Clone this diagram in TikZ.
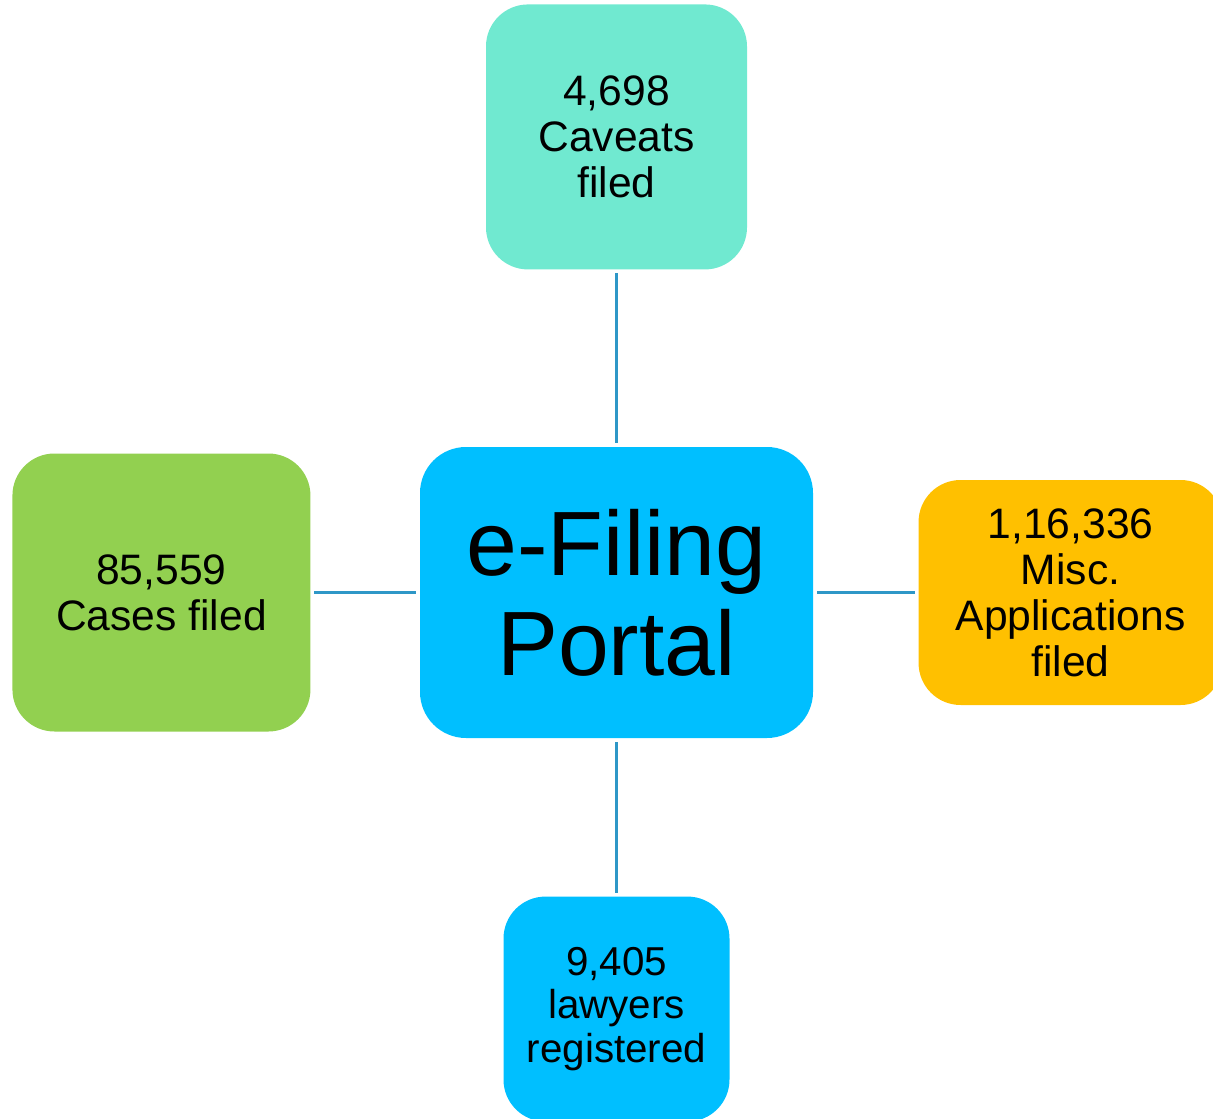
\documentclass[tikz,border=0pt]{standalone}
\usepackage{fontspec}
\setmainfont{Liberation Sans}
\usetikzlibrary{positioning}
\definecolor{portalblue}{HTML}{00BFFF}
\definecolor{caveatteal}{HTML}{70E9D0}
\definecolor{casegreen}{HTML}{92D050}
\definecolor{miscorange}{HTML}{FFC000}
\definecolor{linkblue}{HTML}{2E97C7}
\tikzstyle{hub} = [rectangle, rounded corners=1.15cm, minimum width=9.825cm, minimum height=7.275cm, inner sep=0pt, align=center, fill=portalblue, font=\fontsize{65}{71}\selectfont]
\tikzstyle{stat} = [rectangle, rounded corners=1.05cm, inner sep=0pt, align=center, font=\fontsize{30.3}{32.8}\selectfont]
\tikzstyle{link} = [draw=linkblue, line width=1.6pt, shorten <=2.5pt, shorten >=2.5pt]

\begin{document}
\begin{tikzpicture}
\useasboundingbox (0,0) rectangle (30.325,-27.975);

\node (portal) [hub] at (15.4125,-14.8125) {e-Filing\\Portal};
\node (caveats) [stat, fill=caveatteal, minimum width=6.525cm, minimum height=6.625cm, above=4.425cm of portal] {4,698\\Caveats\\filed};
\node (cases) [stat, fill=casegreen, minimum width=7.45cm, minimum height=6.95cm, left=2.725cm of portal] {85,559\\Cases filed};
\node (misc) [stat, fill=miscorange, minimum width=7.6cm, minimum height=5.625cm, right=2.625cm of portal] {1,16,336\\Misc.\\Applications\\filed};
\node (lawyers) [stat, fill=portalblue, minimum width=5.65cm, minimum height=5.625cm, below=3.95cm of portal, font=\fontsize{28.7}{31}\selectfont] {9,405\\lawyers\\registered};

\draw [link] (caveats) -- (portal);
\draw [link] (cases) -- (portal);
\draw [link] (misc) -- (portal);
\draw [link] (lawyers) -- (portal);
\end{tikzpicture}
\end{document}
